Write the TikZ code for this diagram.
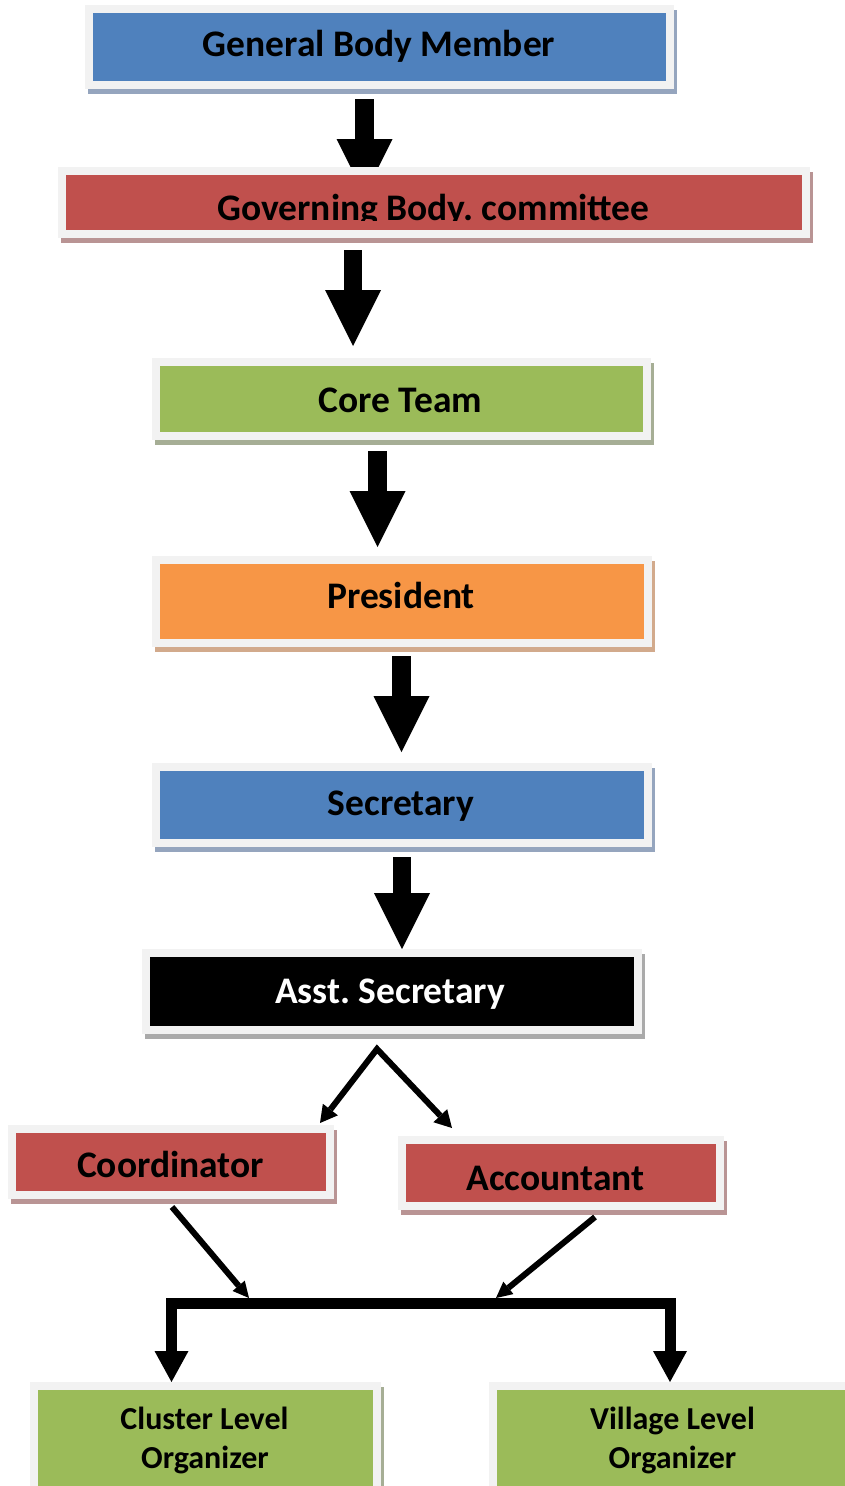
\documentclass[tikz,border=0pt]{standalone}
\usepackage{fontspec}
\setmainfont{Carlito}
\frenchspacing
\usetikzlibrary{arrows.meta,backgrounds,calc}
\definecolor{frameC}{HTML}{F2F2F2}
\definecolor{blueF}{HTML}{4F81BD}
\definecolor{redF}{HTML}{C0504D}
\definecolor{greenF}{HTML}{9BBB59}
\definecolor{orangeF}{HTML}{F79646}
\definecolor{blueS}{HTML}{95A5BE}
\definecolor{redS}{HTML}{B99494}
\definecolor{greenS}{HTML}{A6AE95}
\definecolor{orangeS}{HTML}{D2AA8C}
\definecolor{grayS}{HTML}{AAAAAA}
\begin{document}
\begin{tikzpicture}[x=1pt,y=-1pt,
  box/.style={draw=frameC, line width=8pt, inner sep=0pt, outer sep=0pt, rectangle},
  lbl/.style={anchor=base, inner sep=0pt, font=\bfseries\fontsize{37.5}{42}\selectfont},
  smalllbl/.style={anchor=base, inner sep=0pt, font=\bfseries\fontsize{32}{36}\selectfont},
  blockarrow/.style={line width=18.5pt, -{Triangle[length=56pt,width=56pt,line width=0pt]}},
  thinsplit/.style={line width=6pt, line join=miter, {Triangle[length=17pt,width=19pt,line width=0pt]}-{Triangle[length=17pt,width=19pt,line width=0pt]}},
  thinarrow/.style={line width=6pt, -{Triangle[length=16pt,width=16pt,line width=0pt]}},
  barline/.style={line width=11pt, line join=miter, {Triangle[length=31pt,width=34pt,line width=0pt]}-{Triangle[length=31pt,width=34pt,line width=0pt]}}
]
\useasboundingbox (0,0) rectangle (845,1486);

% boxes
\node[box, fill=blueF,   minimum width=580.5pt, minimum height=76pt]   (gbm)   at (379.25,47) {};
\node[box, fill=redF,    minimum width=743.5pt, minimum height=63.5pt] (gbc)   at (433.75,202.25) {};
\node[box, fill=greenF,  minimum width=491pt,   minimum height=73.5pt] (core)  at (401.5,398.75) {};
\node[box, fill=orangeF, minimum width=492pt,   minimum height=83pt]   (pres)  at (402,601) {};
\node[box, fill=blueF,   minimum width=492pt,   minimum height=76pt]   (sec)   at (402,804.5) {};
\node[box, fill=black,   minimum width=491.5pt, minimum height=76.5pt] (asst)  at (391.75,991.25) {};
\node[box, fill=redF,    minimum width=317.5pt, minimum height=65.5pt] (coord) at (170.75,1161.75) {};
\node[box, fill=redF,    minimum width=317.5pt, minimum height=66pt]   (acct)  at (560.75,1173) {};
\node[box, fill=greenF,  minimum width=343pt,   minimum height=174pt]  (clus)  at (205,1473) {};
\node[box, fill=greenF,  minimum width=358pt,   minimum height=174pt]  (vil)   at (672,1473) {};

% labels
\node[lbl] (gbmT) at (379,56) {General Body Member};
\begin{scope}
  \clip (66,174) rectangle (802,220.5);
  \node[lbl] (gbcT) at (433.5,220) {Governing Body. committee};
\end{scope}
\node[lbl] (coreT) at (400.5,412) {Core Team};
\node[lbl] (presT) at (401,608) {President};
\node[lbl] (secT) at (401,815) {Secretary};
\node[lbl, text=white] (asstT) at (390,1003) {Asst. Secretary};
\node[lbl] (coordT) at (170.5,1177) {Coordinator};
\node[lbl] (acctT) at (555.5,1190) {Accountant};
\node[smalllbl] (clusA) at (204.5,1429) {Cluster Level};
\node[smalllbl] (clusB) at (205,1468) {Organizer};
\node[smalllbl] (vilA) at (672.5,1429) {Village Level};
\node[smalllbl] (vilB) at (672.5,1468) {Organizer};

\coordinate (apex) at ([xshift=-14.75pt,yshift=-19.5pt]asst.south);
\coordinate (barL) at (171.5,1303.5);
\coordinate (barR) at (670,1303.5);

\begin{scope}[on background layer]
  \fill[white] (0,0) rectangle (845,1486);
  \foreach \n/\c in {gbm/blueS, gbc/redS, core/greenS, pres/orangeS, sec/blueS, asst/grayS, coord/redS, acct/redS, clus/greenS, vil/greenS}
    \fill[\c] ([xshift=-1pt,yshift=-1pt]\n.north west) rectangle ([xshift=7pt,yshift=-9pt]\n.south east);
  % block arrows
  \draw[blockarrow] ([xshift=-14.75pt,yshift=-14pt]gbm.south) -- ([xshift=-69.25pt,yshift=-24.5pt]gbc.north);
  \draw[blockarrow] ([xshift=-80.75pt,yshift=-16pt]gbc.south) -- ([xshift=-48.5pt,yshift=16pt]core.north);
  \draw[blockarrow] ([xshift=-24pt,yshift=-15.5pt]core.south) -- ([xshift=-24.5pt,yshift=12.5pt]pres.north);
  \draw[blockarrow] ([xshift=-0.5pt,yshift=-13.5pt]pres.south) -- ([xshift=-0.5pt,yshift=14.5pt]sec.north);
  \draw[blockarrow] ([yshift=-14.5pt]sec.south) -- ([xshift=10.25pt,yshift=4pt]asst.north);
  % split from Asst. Secretary
  \draw[thinsplit] ([xshift=-9.5pt,yshift=6pt]coord.north east) -- (apex) -- ([xshift=50pt,yshift=12pt]acct.north west);
  % to the bar
  \draw[thinarrow] ([xshift=1.25pt,yshift=-12.5pt]coord.south) -- ([xshift=77.5pt,yshift=5.5pt]barL);
  \draw[thinarrow] ([xshift=34.25pt,yshift=-11pt]acct.south) -- ([xshift=324.5pt,yshift=5.5pt]barL);
  \draw[barline] ([xshift=-33.5pt,yshift=4pt]clus.north) -- (barL) -- (barR) -- ([xshift=-2pt,yshift=4pt]vil.north);
\end{scope}
\end{tikzpicture}
\end{document}
